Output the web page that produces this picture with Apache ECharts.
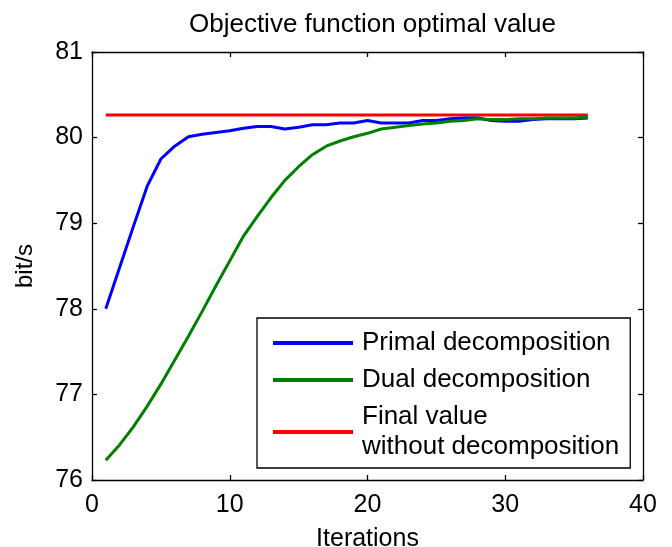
<!DOCTYPE html>
<html><head><meta charset="utf-8">
<script src="https://cdn.jsdelivr.net/npm/echarts@6/dist/echarts.min.js"></script>
<style>html,body{margin:0;padding:0;background:#fff}#c{width:672px;height:547px}</style>
</head><body><div id="c"></div>
<script>
const iterations = [1,2,3,4,5,6,7,8,9,10,11,12,13,14,15,16,17,18,19,20,21,22,23,24,25,26,27,28,29,30,31,32,33,34,35,36];
const primal = [78.0,78.48,78.96,79.43,79.75,79.9,80.01,80.04,80.06,80.08,80.11,80.13,80.13,80.1,80.12,80.15,80.15,80.17,80.17,80.2,80.17,80.17,80.17,80.2,80.2,80.22,80.23,80.23,80.2,80.19,80.19,80.21,80.22,80.22,80.22,80.23];
const dual = [76.23,76.41,76.62,76.86,77.12,77.4,77.68,77.97,78.27,78.56,78.85,79.08,79.3,79.5,79.66,79.8,79.9,79.96,80.01,80.05,80.1,80.12,80.14,80.16,80.17,80.19,80.2,80.22,80.21,80.21,80.22,80.22,80.23,80.23,80.23,80.24];
const finalValue = 80.265;
const finalRange = [1, 36];
const xTicks = [0,10,20,30,40];
const yTicks = [76,77,78,79,80,81];

const font = 'Liberation Sans, Arial, sans-serif';
const chart = echarts.init(document.getElementById('c'));
const axisBase = {
  axisLine:{show:true,onZero:false,lineStyle:{color:'#000',width:1.3}},
  axisTick:{show:true,inside:true,length:5,lineStyle:{color:'#000',width:1.3}},
  splitLine:{show:false}
};
chart.setOption({
  animation:false,
  backgroundColor:'#fff',
  title:{text:'Objective function optimal value',left:367.5,textAlign:'center',top:7,
    textStyle:{fontFamily:font,fontWeight:'normal',fontSize:26,color:'#000'}},
  grid:{left:92,right:29,top:52,bottom:67,containLabel:false,outerBoundsMode:'none'},
  legend:{
    orient:'vertical',left:257,top:318,
    padding:[10,11,6,16],itemGap:7,itemWidth:80,itemHeight:4,
    borderColor:'#000',borderWidth:1.3,borderRadius:0,backgroundColor:'#fff',
    icon:'rect',
    textStyle:{fontFamily:font,fontSize:26,color:'#000',lineHeight:30,padding:[0,0,0,4]},
    data:['Primal decomposition','Dual decomposition','Final value\nwithout decomposition']
  },
  xAxis:[
    Object.assign({type:'value',min:0,max:40,interval:10,position:'bottom',
      name:'Iterations',nameLocation:'middle',nameGap:47,
      nameTextStyle:{fontFamily:font,fontSize:25,color:'#000'},
      axisLabel:{fontFamily:font,fontSize:25,color:'#000',margin:13}},axisBase),
    Object.assign({type:'value',min:0,max:40,interval:10,position:'top',axisLabel:{show:false}},axisBase)
  ],
  yAxis:[
    Object.assign({type:'value',min:76,max:81,interval:1,position:'left',
      name:'bit/s',nameLocation:'middle',nameGap:55,nameRotate:90,
      nameTextStyle:{fontFamily:font,fontSize:24,color:'#000'},
      axisLabel:{fontFamily:font,fontSize:25,color:'#000',margin:9}},axisBase),
    Object.assign({type:'value',min:76,max:81,interval:1,position:'right',axisLabel:{show:false}},axisBase)
  ],
  series:[
    {name:'Primal decomposition',type:'line',data:iterations.map((x,i)=>[x,primal[i]]),
      symbol:'none',lineStyle:{color:'#0000ff',width:3},itemStyle:{color:'#0000ff'}},
    {name:'Dual decomposition',type:'line',data:iterations.map((x,i)=>[x,dual[i]]),
      symbol:'none',lineStyle:{color:'#008000',width:3},itemStyle:{color:'#008000'}},
    {name:'Final value\nwithout decomposition',type:'line',data:finalRange.map(x=>[x,finalValue]),
      symbol:'none',lineStyle:{color:'#ff0000',width:3},itemStyle:{color:'#ff0000'},z:1}
  ]
});
</script></body></html>
